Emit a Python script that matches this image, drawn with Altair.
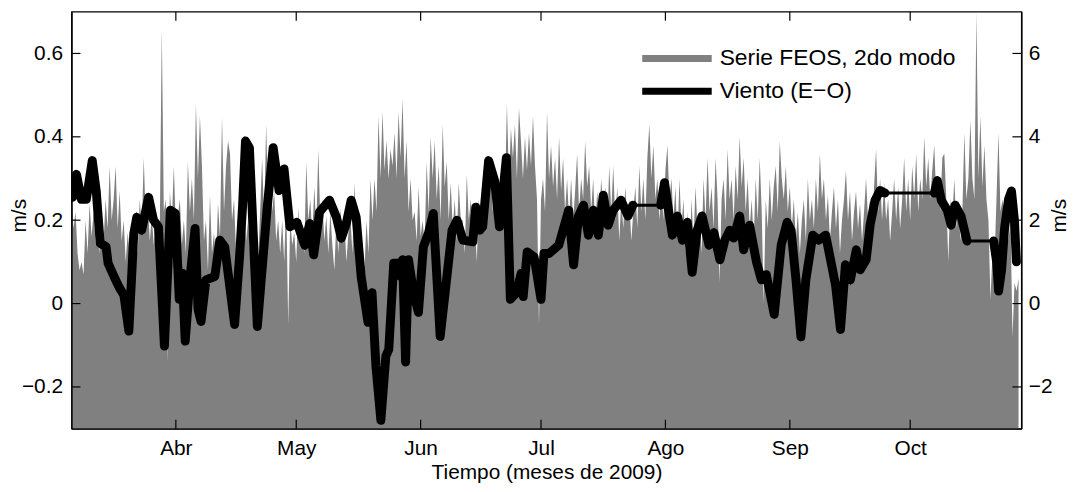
import altair as alt
import numpy as np
import pandas as pd

# ---------------- data ----------------
START = "2009-03-06T00:00:00"
month_names = ["Ene", "Feb", "Mar", "Abr", "May", "Jun", "Jul", "Ago", "Sep", "Oct", "Nov", "Dic"]
tick_months = [4, 5, 6, 7, 8, 9, 10]

# FEOS series (m/s), one value every 12 h starting 6 Mar 2009
feos_step_days = 0.5
feos_values = [
    0.25, 0.18, 0.22, 0.12, 0.08, 0.10, 0.07, 0.20, 0.12, 0.24,
    0.16, 0.22, 0.14, 0.20, 0.12, 0.21, 0.15, 0.25, 0.18, 0.33,
    0.20, 0.25, 0.33, 0.18, 0.27, 0.15, 0.20, 0.10, 0.17, 0.12,
    0.17, 0.07, 0.18, 0.12, 0.25, 0.18, 0.35, 0.20, 0.25, 0.15,
    0.21, 0.14, 0.20, 0.12, 0.18, 0.66, 0.22, 0.25, -0.14, 0.27,
    0.20, 0.33, 0.18, 0.21, 0.25, 0.14, 0.20, 0.12, 0.34, 0.22,
    0.30, 0.20, 0.48, 0.30, 0.45, 0.33, 0.15, 0.20, 0.08, 0.26,
    0.12, 0.17, 0.10, 0.24, 0.16, 0.45, 0.22, 0.33, 0.39, 0.36,
    0.20, 0.25, 0.12, 0.21, 0.14, 0.20, 0.25, 0.15, 0.20, 0.12,
    0.27, 0.14, 0.20, 0.10, 0.22, 0.35, 0.20, 0.43, 0.25, 0.34,
    0.22, 0.27, 0.15, 0.20, 0.12, 0.20, 0.10, 0.25, -0.05, 0.20,
    0.14, 0.17, 0.10, 0.23, 0.13, 0.19, 0.12, 0.34, 0.20, 0.25,
    0.16, 0.28, 0.18, 0.37, 0.20, 0.25, 0.15, 0.21, 0.12, 0.22,
    0.14, 0.08, 0.20, 0.12, 0.23, 0.15, 0.20, 0.10, 0.17, 0.21,
    0.12, 0.29, 0.15, 0.17, 0.10, 0.15, 0.08, 0.20, 0.12, 0.30,
    0.20, 0.30, 0.22, 0.45, 0.30, 0.46, 0.32, 0.39, 0.30, 0.37,
    0.33, 0.41, 0.30, 0.46, 0.35, 0.49, 0.30, 0.39, 0.22, 0.30,
    0.20, 0.22, 0.15, 0.28, 0.16, 0.20, 0.14, 0.34, 0.22, 0.40,
    0.30, 0.39, 0.25, 0.33, 0.20, 0.43, 0.28, 0.34, 0.20, 0.29,
    0.18, 0.25, 0.15, 0.29, 0.20, 0.20, 0.12, 0.31, 0.20, 0.25,
    0.17, 0.20, 0.10, 0.25, 0.18, 0.29, 0.20, 0.34, 0.25, 0.31,
    0.22, 0.29, 0.20, 0.30, 0.22, 0.29, 0.25, 0.48, 0.30, 0.42,
    0.35, 0.43, 0.30, 0.47, 0.39, 0.30, 0.40, 0.32, 0.41, 0.33,
    0.45, 0.33, 0.25, -0.05, 0.25, 0.30, 0.22, 0.46, 0.30, 0.38,
    0.28, 0.35, 0.25, 0.40, 0.27, 0.35, 0.22, 0.30, 0.20, 0.30,
    0.20, 0.27, 0.36, 0.22, 0.30, 0.25, 0.39, 0.28, 0.33, 0.22,
    0.30, 0.18, 0.27, 0.20, 0.30, 0.22, 0.28, 0.18, 0.33, 0.22,
    0.33, 0.20, 0.28, 0.15, 0.25, 0.18, 0.28, 0.20, 0.25, 0.15,
    0.22, 0.28, 0.18, 0.33, 0.22, 0.30, 0.20, 0.35, 0.43, 0.30,
    0.38, 0.25, 0.30, 0.20, 0.28, 0.20, 0.32, 0.38, 0.25, 0.30,
    0.20, 0.28, 0.15, 0.30, 0.18, 0.25, 0.12, 0.22, 0.08, 0.25,
    0.15, 0.28, 0.18, 0.22, 0.12, 0.30, 0.20, 0.35, 0.22, 0.28,
    0.18, 0.35, 0.25, 0.05, 0.25, 0.30, 0.20, 0.37, 0.25, 0.30,
    0.20, 0.33, 0.25, 0.40, 0.28, 0.35, 0.22, 0.30, 0.18, 0.25,
    0.15, 0.30, 0.20, 0.35, 0.22, 0.00, 0.25, 0.18, 0.30, 0.20,
    0.28, 0.33, 0.22, 0.39, 0.30, 0.25, 0.33, 0.22, 0.28, 0.18,
    0.25, 0.15, 0.22, 0.12, 0.20, 0.25, 0.15, 0.30, 0.20, 0.25,
    0.18, 0.30, 0.22, 0.36, 0.25, 0.30, 0.20, 0.26, 0.15, 0.22,
    0.28, 0.18, 0.25, 0.12, 0.20, 0.25, 0.32, 0.20, 0.27, 0.15,
    0.22, 0.27, 0.18, 0.24, 0.15, 0.22, 0.30, 0.20, 0.25, 0.18,
    0.28, 0.37, 0.22, 0.30, 0.20, 0.29, 0.20, 0.25, 0.15, 0.22,
    0.30, 0.20, 0.28, 0.18, 0.25, 0.35, 0.22, 0.30, 0.20, 0.33,
    0.25, 0.36, 0.22, 0.30, 0.25, 0.40, 0.28, 0.35, 0.25, 0.32,
    0.38, 0.25, 0.30, 0.22, 0.35, 0.36, 0.25, 0.10, 0.25, 0.20,
    0.30, 0.18, 0.25, 0.15, 0.22, 0.41, 0.25, 0.30, 0.44, 0.30,
    0.25, 0.70, 0.30, 0.45, 0.28, 0.38, 0.25, 0.20, 0.01, 0.12,
    0.10, 0.25, 0.41, 0.22, 0.25, 0.20, 0.25, 0.15, 0.20, -0.08,
    0.05, 0.03, 0.06,
]

# Wind (E-O), m/s: days since 6 Mar 2009 and value
wind_days = [
    0.25, 1.23, 2.46, 3.69, 5.17, 6.16, 7.14, 8.62, 9.11, 10.59,
    11.82, 13.05, 14.29, 15.52, 16.26, 17.49, 19.21, 20.44, 21.67, 23.15,
    24.63, 25.86, 26.85, 27.59, 28.33, 29.56, 30.79, 31.53, 32.27, 33.50,
    35.71, 36.95, 38.18, 40.64, 41.87, 42.61, 43.35, 44.33, 46.31, 48.77,
    50.25, 51.72, 52.96, 54.43, 56.16, 58.13, 59.36, 60.34, 61.82, 64.29,
    66.01, 67.24, 68.47, 69.70, 70.94, 72.17, 73.89, 74.88, 75.86, 77.09,
    78.33, 79.06, 80.30, 81.53, 82.02, 82.51, 83.25, 83.99, 85.22, 86.45,
    87.68, 88.92, 90.15, 91.87, 93.10, 94.83, 96.06, 97.54, 100.00, 100.74,
    101.72, 102.46, 103.94, 105.42, 106.65, 108.37, 109.36, 110.84, 112.07, 112.56,
    113.55, 115.27, 117.00, 117.73, 118.97, 121.43, 123.89, 125.12, 126.35, 127.59,
    128.82, 130.05, 131.28, 132.51, 133.74, 134.98, 136.95, 138.67, 139.90,
    146.80, 147.78, 148.77, 149.75, 150.99, 152.22, 153.45, 154.68, 155.91, 157.14,
    158.87, 160.10, 161.58, 162.81, 164.04, 165.02, 166.50, 167.49, 168.97, 170.69,
    171.92, 173.15, 174.38, 175.12, 176.85, 178.33, 179.31, 180.54, 181.77, 183.00,
    184.73, 186.21, 187.93, 189.16, 190.39, 191.63, 192.86, 194.09, 195.57, 196.55,
    198.03, 199.01, 200.25, 201.48, 202.71,
    215.02, 215.76, 216.75, 218.23, 219.21, 220.20, 221.67, 223.15,
    229.80, 230.54, 231.03, 231.77, 232.51, 233.50, 234.24, 234.98, 235.47,
]
wind_ms = [
    2.55, 3.10, 2.50, 2.50, 3.43, 2.70, 1.45, 1.36, 0.97, 0.65,
    0.40, 0.20, -0.66, 1.68, 2.07, 1.76, 2.55, 2.00, 1.84, -1.02,
    2.24, 2.16, 0.10, 0.73, -0.90, 0.65, 1.80, -0.14, -0.43, 0.57,
    0.65, 1.52, 1.36, -0.50, 1.12, 2.31, 3.90, 3.74, -0.55, 2.31,
    3.74, 2.71, 3.23, 1.84, 1.95, 1.40, 1.92, 1.17, 2.20, 2.48,
    2.07, 1.57, 1.92, 2.48, 2.07, 0.65, -0.45, 0.26, -1.50, -2.80,
    -1.26, -1.10, 0.97, 0.97, 0.65, 1.05, -1.40, 1.05, 0.26, -0.21,
    1.36, 1.68, 2.16, -0.79, 0.26, 1.76, 2.00, 1.52, 1.48, 2.31,
    1.76, 1.84, 3.43, 2.95, 1.84, 3.50, 0.10, 0.26, 0.73, 0.17,
    1.24, 1.12, 0.10, 1.20, 1.20, 1.40, 2.24, 0.93, 2.10, 2.36,
    1.64, 2.24, 1.64, 2.60, 1.88, 2.24, 2.48, 2.10, 2.36,
    2.36, 2.90, 2.24, 1.64, 2.10, 1.52, 1.95, 0.75, 1.76, 2.10,
    1.40, 1.70, 1.05, 1.52, 1.76, 1.57, 2.10, 1.29, 1.88, 1.00,
    0.57, 0.69, 0.10, -0.26, 1.40, 1.95, 1.76, 0.57, -0.80, 0.57,
    1.64, 1.52, 1.64, 1.05, 0.45, -0.62, 0.93, 0.57, 1.29, 0.81,
    1.05, 1.88, 2.48, 2.71, 2.65,
    2.65, 2.95, 2.48, 2.24, 1.88, 2.36, 2.10, 1.50,
    1.50, 1.00, 0.30, 0.80, 1.80, 2.50, 2.70, 2.00, 1.00,
]
# stretches where the wind record is a flat fill (drawn thinner)
plateau_start_days = [139.90, 202.71, 223.15]
plateau_end_days = [146.80, 215.02, 229.80]

left_ticks = [-0.2, 0, 0.2, 0.4, 0.6]
right_ticks = [-2, 0, 2, 4, 6]
left_domain = [-0.3, 0.7]
right_domain = [-3, 7]

legend_labels = ["Serie FEOS, 2do modo", "Viento (E\u2212O)"]
legend_colors = ["#808080", "#000000"]

# ---------------- tables ----------------
start = pd.Timestamp(START)
fmt = "%Y-%m-%dT%H:%M:%S"

feos_df = pd.DataFrame({
    "t": (start + pd.to_timedelta(np.arange(len(feos_values)) * feos_step_days, unit="D")).strftime(fmt),
    "v": feos_values,
})

wind_t = (start + pd.to_timedelta(np.array(wind_days), unit="D")).strftime(fmt)
seg = [sum(1 for e in plateau_end_days if d >= e - 1e-9) for d in wind_days]
wind_df = pd.DataFrame({"t": wind_t, "w": wind_ms, "seg": seg})

month_df = pd.DataFrame({"t": [pd.Timestamp(2009, m, 1).strftime(fmt) for m in tick_months]})
lt_df = pd.DataFrame({"v": left_ticks})
one_row = pd.DataFrame({"k": [0]})

# ---------------- chart ----------------
W, H = 957, 420
FONT = "Liberation Sans"
FS = 21

xdom = [alt.DateTime(year=2009, month=3, date=6),
        alt.DateTime(year=2009, month=10, date=28, hours=17)]
xscale = alt.Scale(domain=xdom)
label_expr = "[" + ",".join(f"'{m}'" for m in month_names) + "][month(datum.value)]"

x_axis = alt.Axis(
    values=[alt.DateTime(year=2009, month=m, date=1) for m in tick_months],
    labelExpr=label_expr, title="Tiempo (meses de 2009)", ticks=False, grid=False,
    domain=True, domainColor="black", domainWidth=1.3, zindex=1,
    labelPadding=9, titlePadding=3, labelFont=FONT, titleFont=FONT,
    labelFontSize=FS, titleFontSize=FS, titleFontWeight="normal", labelColor="black",
    titleColor="black",
)

area = alt.Chart(feos_df).mark_area(color="#808080", opacity=1, clip=True).encode(
    x=alt.X("t:T", scale=xscale, axis=x_axis),
    y=alt.Y("v:Q", scale=alt.Scale(domain=left_domain, nice=False, zero=False),
            axis=alt.Axis(values=left_ticks, format=".1~f", ticks=False, grid=False,
                          domain=True, domainColor="black", domainWidth=1.3, zindex=1,
                          labelPadding=9, labelFont=FONT, labelFontSize=FS, labelColor="black",
                          title="m/s", titleFont=FONT, titleFontSize=FS, titleFontWeight="normal",
                          titleColor="black", titleAngle=270, titleX=-52, titleY=205,
                          titleAlign="center", titleBaseline="middle")),
    y2=alt.datum(left_domain[0]),
)

wind_y_scale = alt.Scale(domain=right_domain, nice=False, zero=False)

wind_thin = alt.Chart(wind_df).mark_line(color="black", strokeWidth=3, clip=True).encode(
    x=alt.X("t:T", scale=xscale),
    y=alt.Y("w:Q", scale=wind_y_scale,
            axis=alt.Axis(orient="right", values=right_ticks, format="d", ticks=False, grid=False,
                          domain=True, domainColor="black", domainWidth=1.3, zindex=1,
                          labelPadding=7, labelFont=FONT, labelFontSize=FS, labelColor="black",
                          title="m/s", titleFont=FONT, titleFontSize=FS, titleFontWeight="normal",
                          titleColor="black", titleAngle=270, titleX=38, titleY=205,
                          titleAlign="center", titleBaseline="middle")),
)

wind_thick = alt.Chart(wind_df).mark_line(color="black", strokeWidth=9, strokeCap="round",
                                          strokeJoin="round", clip=True).encode(
    x=alt.X("t:T", scale=xscale),
    y=alt.Y("w:Q", scale=wind_y_scale, axis=None),
    detail="seg:N",
)

tick_len = 9
bottom_ticks = alt.Chart(month_df).mark_rule(color="black", strokeWidth=1.2).encode(
    x=alt.X("t:T", scale=xscale), y=alt.value(H), y2=alt.value(H - tick_len))
top_ticks = alt.Chart(month_df).mark_rule(color="black", strokeWidth=1.2).encode(
    x=alt.X("t:T", scale=xscale), y=alt.value(0), y2=alt.value(tick_len))
left_tk = alt.Chart(lt_df).mark_rule(color="black", strokeWidth=1.2).encode(
    y=alt.Y("v:Q", scale=alt.Scale(domain=left_domain, nice=False, zero=False), axis=None),
    x=alt.value(0), x2=alt.value(tick_len))
right_tk = alt.Chart(lt_df).mark_rule(color="black", strokeWidth=1.2).encode(
    y=alt.Y("v:Q", scale=alt.Scale(domain=left_domain, nice=False, zero=False), axis=None),
    x=alt.value(W - tick_len), x2=alt.value(W))

# legend (top right, inside the plot)
leg_layers = []
for i, (lab, col) in enumerate(zip(legend_labels, legend_colors)):
    yy = 47 + 33 * i
    leg_layers.append(
        alt.Chart(one_row).mark_rule(color=col, strokeWidth=7).encode(
            x=alt.value(575), x2=alt.value(645), y=alt.value(yy)))
    leg_layers.append(
        alt.Chart(one_row).mark_text(align="left", baseline="middle", font=FONT,
                                     fontSize=23, color="black").encode(
            x=alt.value(653), y=alt.value(yy), text=alt.value(lab)))

chart = alt.layer(
    area, wind_thin, wind_thick, bottom_ticks, top_ticks, left_tk, right_tk, *leg_layers
).resolve_scale(y="independent").properties(
    width=W, height=H,
    padding={"left": 64, "top": 2, "right": 51, "bottom": 54},
    autosize="none",
    background="white",
).configure_view(stroke="black", strokeWidth=1.3)

chart.save("out.html", embed_options={"renderer": "svg", "actions": False})
